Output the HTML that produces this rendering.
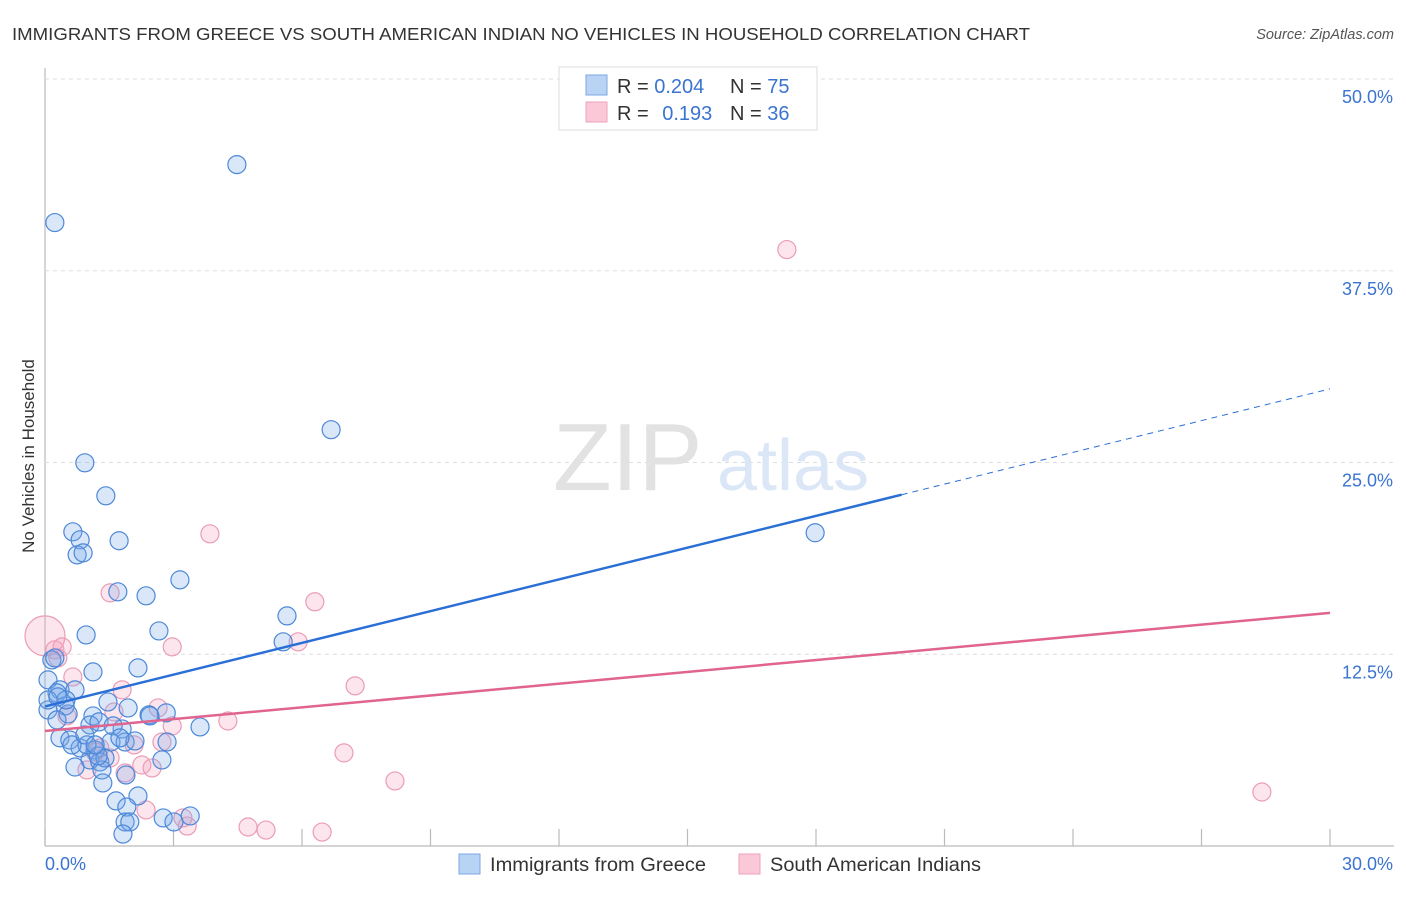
<!DOCTYPE html>
<html><head><meta charset="utf-8"><style>
body{margin:0;background:#fff;font-family:"Liberation Sans",sans-serif}
svg text{font-family:"Liberation Sans",sans-serif}
</style></head><body>
<svg id="chart" width="1406" height="892" viewBox="0 0 1406 892" xmlns="http://www.w3.org/2000/svg">
<text x="12" y="40" font-size="17.5" fill="#333" textLength="1018" lengthAdjust="spacingAndGlyphs">IMMIGRANTS FROM GREECE VS SOUTH AMERICAN INDIAN NO VEHICLES IN HOUSEHOLD CORRELATION CHART</text>
<text x="1394" y="39" font-size="14.5" fill="#555" text-anchor="end" font-style="italic">Source: ZipAtlas.com</text>
<g id="grid"></g>
<g>
<text x="553" y="490" font-size="96" fill="#e2e2e2" font-family="Liberation Serif,serif">ZIP</text>
<text x="717" y="490" font-size="72" fill="#dbe7f7">atlas</text>
</g>
<text transform="translate(34,456) rotate(-90)" font-size="17" fill="#333" text-anchor="middle">No Vehicles in Household</text>
<g id="marks"></g>
<g id="lines"></g>
<g>
<rect x="559" y="67" width="258" height="63" fill="#fff" stroke="#ddd"/>
<rect x="586" y="75" width="21" height="20" fill="#b9d3f5" stroke="#7aa7e4"/>
<rect x="586" y="102" width="21" height="20" fill="#fbc8d8" stroke="#eea0ba"/>
<text x="617" y="93" font-size="20" fill="#333">R = <tspan fill="#3a74d0">0.204</tspan></text>
<text x="730" y="93" font-size="20" fill="#333">N = <tspan fill="#3a74d0">75</tspan></text>
<text x="617" y="120" font-size="20" fill="#333">R = <tspan fill="#3a74d0" dx="8">0.193</tspan></text>
<text x="730" y="120" font-size="20" fill="#333">N = <tspan fill="#3a74d0">36</tspan></text>
</g>
<g>
<rect x="459" y="854" width="21" height="20" fill="#b9d3f5" stroke="#7aa7e4"/>
<text x="490" y="871" font-size="19.5" fill="#333" textLength="216" lengthAdjust="spacingAndGlyphs">Immigrants from Greece</text>
<rect x="739" y="854" width="21" height="20" fill="#fbc8d8" stroke="#eea0ba"/>
<text x="770" y="871" font-size="19.5" fill="#333" textLength="211" lengthAdjust="spacingAndGlyphs">South American Indians</text>
</g>
</svg>
<script>
const xTicks=[0,3,6,9,12,15,18,21,24,27,30];
const yTicks=[12.5,25,37.5,50];
const yTickLabels=["12.5%","25.0%","37.5%","50.0%"];
const xAxisLabels=["0.0%","30.0%"];
const greeceX=[0.23,4.48,6.68,0.93,1.42,0.65,0.82,0.75,0.89,1.73,3.15,2.36,1.70,5.65,0.96,2.66,5.56,2.17,1.12,0.16,0.23,0.07,0.35,0.28,0.70,0.07,0.47,0.54,1.12,1.47,1.94,2.43,2.83,3.62,1.05,1.26,1.80,0.35,0.58,0.82,1.17,1.54,1.87,2.85,1.05,1.28,0.70,1.33,2.73,1.89,1.35,1.66,2.17,1.91,1.87,1.98,2.76,3.01,3.39,1.82,17.98,0.07,0.98,1.40,0.63,2.45,1.59,1.24,2.10,0.49,0.30,0.93,1.17,1.75,0.28];
const greeceY=[40.64,44.42,27.14,24.98,22.83,20.48,19.96,18.98,19.11,19.90,17.35,16.31,16.57,15.00,13.76,14.02,13.31,11.61,11.35,12.13,12.26,10.83,10.18,9.98,10.18,8.87,9.13,8.61,8.48,9.39,9.00,8.55,8.68,7.76,7.89,8.09,7.63,7.05,6.91,6.39,6.26,6.78,6.78,6.78,5.61,5.48,5.15,4.96,5.61,4.63,4.11,2.94,3.26,2.54,1.57,1.57,1.83,1.57,1.96,0.78,20.42,9.52,6.59,5.74,6.59,8.48,7.83,5.87,6.85,9.52,9.72,7.24,6.59,7.05,8.22];
const saiX=[17.32,3.85,1.52,6.30,2.97,5.91,0.23,0.40,0.30,0.65,1.80,7.24,2.64,2.97,4.27,0.51,1.61,6.98,2.73,2.08,1.28,0.98,1.87,2.26,2.50,8.17,28.41,2.36,3.22,3.32,4.74,5.16,6.47,0,1.17,1.52];
const saiY=[38.88,20.35,16.50,15.92,12.98,13.31,12.79,12.98,12.26,11.02,10.18,10.44,9.00,7.83,8.15,8.48,8.74,6.07,6.78,6.59,6.39,4.96,4.76,5.28,5.09,4.24,3.52,2.35,1.83,1.30,1.24,1.04,0.91,13.70,6.13,5.74];
const greeceTrend=[9.1,22.9];   // y at x=0 and x=20
const greeceTrendEnd=30.0;
const saiTrend=[7.5,15.2];      // y at x=0 and x=30

const X=v=>45+v*(1285/30);
const Y=v=>846-v*(767/50);
const NS="http://www.w3.org/2000/svg";
function mk(tag,attrs,parent){const e=document.createElementNS(NS,tag);for(const k in attrs)e.setAttribute(k,attrs[k]);parent.appendChild(e);return e;}
const grid=document.getElementById('grid');
let ax=mk('line',{x1:45,y1:68,x2:45,y2:846,stroke:'#bbb','stroke-width':1.2},grid);


let bx=mk('line',{x1:45,y1:846,x2:1394,y2:846,stroke:'#bbb','stroke-width':1.2},grid);


xTicks.forEach(t=>{const l=mk('line',{x1:X(t),y1:829,x2:X(t),y2:846,stroke:'#bbb','stroke-width':1.2},grid);

});
yTicks.forEach((t,i)=>{const l=mk('line',{x1:45,y1:Y(t),x2:1394,y2:Y(t),stroke:'#ddd','stroke-dasharray':'4,4'},grid);


const tx=mk('text',{x:1393,y:Y(t)+24,'font-size':18,fill:'#3a74d0','text-anchor':'end'},grid);tx.textContent=yTickLabels[i];

});
const xl0=mk('text',{x:45,y:870,'font-size':18,fill:'#3a74d0'},grid);xl0.textContent=xAxisLabels[0];


const xl1=mk('text',{x:1393,y:870,'font-size':18,fill:'#3a74d0','text-anchor':'end'},grid);xl1.textContent=xAxisLabels[1];


const marks=document.getElementById('marks');
saiX.forEach((v,i)=>{const r=(v===0)?20:9;const c=mk('circle',{cx:X(v),cy:Y(saiY[i]),r:r,fill:'rgba(245,160,190,0.28)',stroke:'#eb9cb7','stroke-width':1.2},marks);

});
greeceX.forEach((v,i)=>{const c=mk('circle',{cx:X(v),cy:Y(greeceY[i]),r:9,fill:'rgba(120,170,235,0.28)',stroke:'#4d88d8','stroke-width':1.2},marks);

});
const lines=document.getElementById('lines');
const gy=x=>greeceTrend[0]+(greeceTrend[1]-greeceTrend[0])*x/20;
let l1=mk('line',{x1:X(0),y1:Y(gy(0)),x2:X(20),y2:Y(gy(20)),stroke:'#2a6fd6','stroke-width':2.5},lines);


let l2=mk('line',{x1:X(20),y1:Y(gy(20)),x2:X(greeceTrendEnd),y2:Y(gy(greeceTrendEnd)),stroke:'#2a6fd6','stroke-width':1,'stroke-dasharray':'6,5'},lines);


let l3=mk('line',{x1:X(0),y1:Y(saiTrend[0]),x2:X(30),y2:Y(saiTrend[1]),stroke:'#e0648f','stroke-width':2.5},lines);


</script>
</body></html>
